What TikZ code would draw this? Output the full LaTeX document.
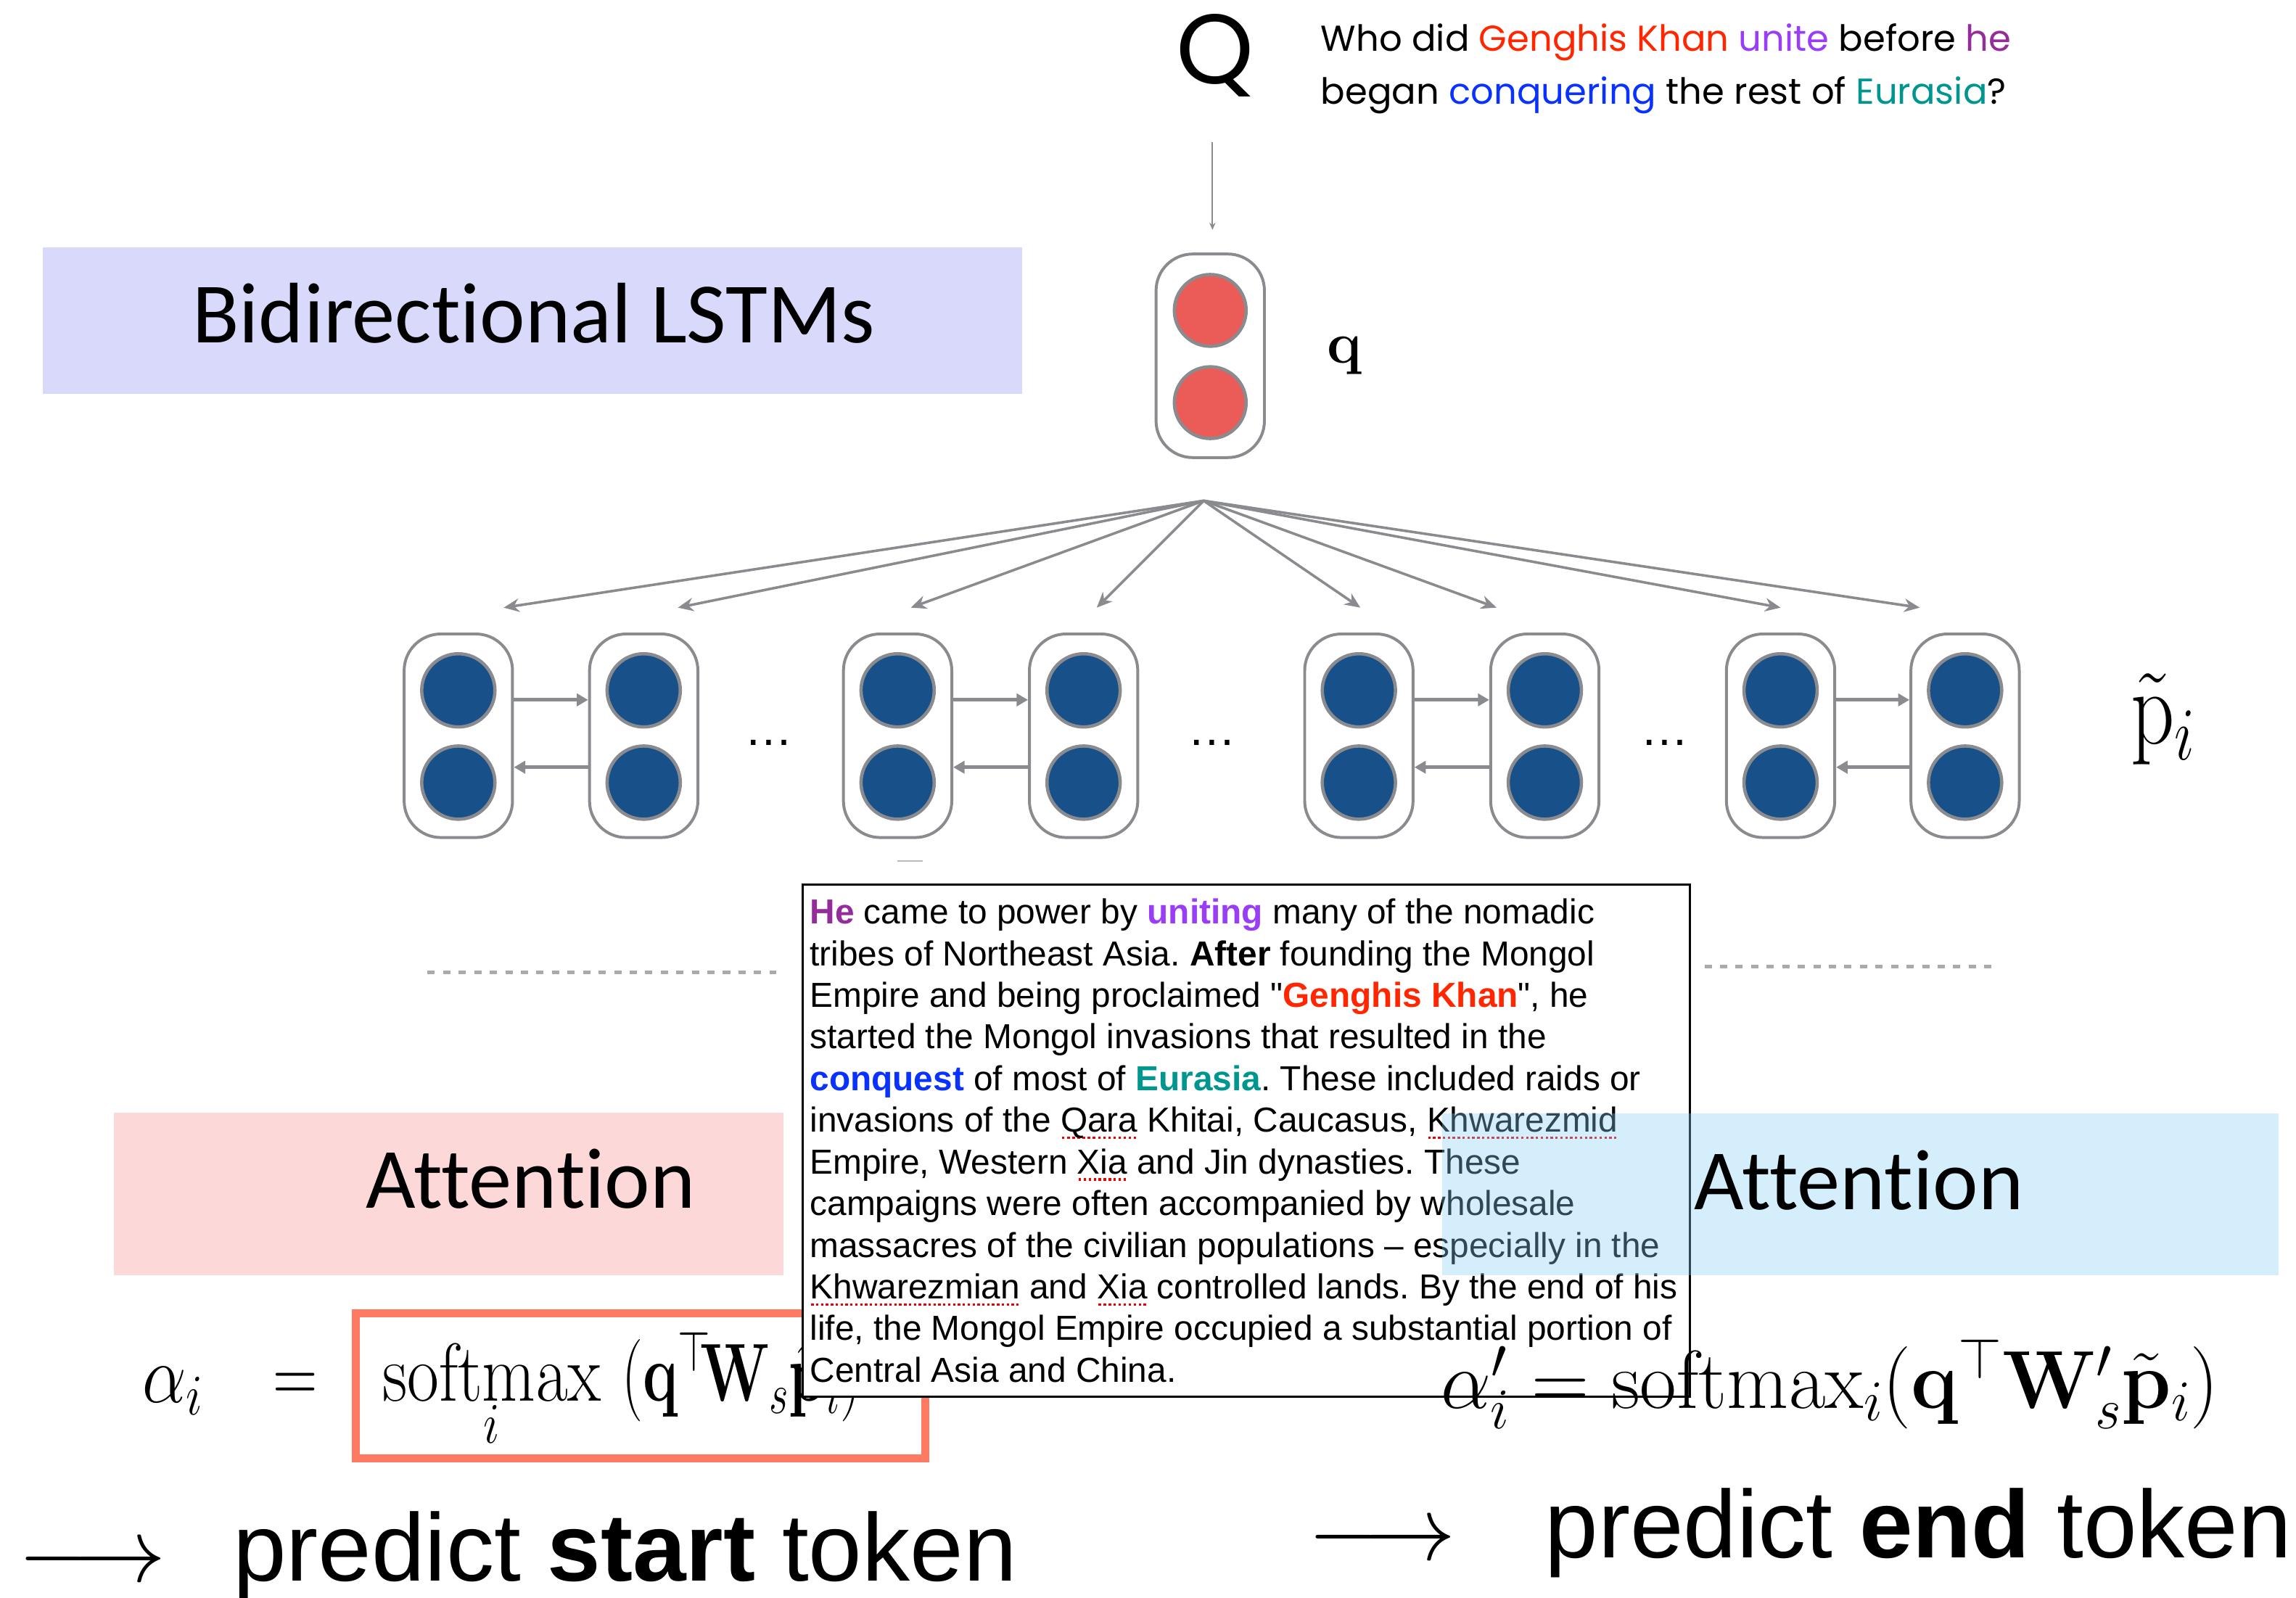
\RequirePackage{fix-cm}
\documentclass[tikz,border=0pt]{standalone}
\usepackage{amsmath}
\usepackage[no-math]{fontspec}
\usepackage{graphicx}
\setmainfont{Liberation Sans}[Ligatures=TeXOff]
\newfontfamily\calibrifont{Carlito}[Ligatures={NoCommon}]
\newfontfamily\gothicfont{Poppins}
\usetikzlibrary{arrows.meta}
\definecolor{lgray}{RGB}{137,139,143}
\definecolor{qred}{RGB}{235,92,88}
\definecolor{pblue}{RGB}{24,80,137}
\definecolor{lav}{RGB}{217,217,252}
\definecolor{pinkbg}{RGB}{253,216,216}
\definecolor{cyanbg}{RGB}{135,209,244}
\definecolor{orng}{RGB}{255,122,98}
\definecolor{cred}{RGB}{255,38,0}
\definecolor{cviolet}{RGB}{154,61,247}
\definecolor{cpurple}{RGB}{149,44,155}
\definecolor{cblue}{RGB}{10,50,255}
\definecolor{cteal}{RGB}{0,150,144}
\definecolor{dashgray}{RGB}{170,170,170}
\definecolor{sqred}{RGB}{235,0,0}
\newlength\sqw
\newcommand\sqln[1]{\settowidth{\sqw}{#1}\rlap{\raisebox{-0.2em}{\color{sqred}\xleaders\hbox to 0.14em{\hss\rule{0.07em}{0.07em}\hss}\hskip\sqw}}#1}
\frenchspacing
\begin{document}
\begin{tikzpicture}[x=0.5mm,y=-0.5mm,
  capsule/.style={draw=lgray, line width=2.8pt, rounded corners=12.5mm, fill=white,
    minimum width=37mm, minimum height=69.5mm, inner sep=0pt},
  rcirc/.style={circle, draw=lgray, line width=3.2pt, fill=qred, minimum size=24.5mm, inner sep=0pt},
  bcirc/.style={circle, draw=lgray, line width=3.2pt, fill=pblue, minimum size=25mm, inner sep=0pt},
  fanarr/.style={draw=lgray, line width=2.5pt, -{Stealth[length=15pt,width=13pt]}},
  cellarr/.style={draw=lgray, line width=3.4pt, -{Triangle[length=11pt,width=12pt]}},
  qarr/.style={draw=lgray, line width=1.4pt, -{Stealth[length=7pt,width=6pt]}},
  dashln/.style={draw=dashgray, line width=3.5pt, dash pattern=on 7.1pt off 8pt},
  ptxt/.style={anchor=base west, inner sep=0pt, font=\fontsize{33.7}{40}\selectfont},
  qtxt/.style={anchor=base west, inner sep=0pt, font=\gothicfont\fontsize{35}{35}\selectfont},
  cal/.style={inner sep=0pt, font=\calibrifont\fontsize{83.5}{84}\selectfont},
  dotsty/.style={anchor=base, inner sep=0pt, font=\fontsize{47}{47}\selectfont},
  bigtxt/.style={anchor=base west, inner sep=0pt, font=\fontsize{93.2}{93}\selectfont},
  mathbig/.style={inner sep=0pt, font=\fontsize{80}{80}\selectfont},
  longarr/.style={inner sep=0pt, font=\fontsize{89}{89}\selectfont}
]
\path[fill=white] (0,0) rectangle (1568,1091);
\useasboundingbox (0,0) rectangle (1568,1091);

% Bidirectional LSTMs
\fill[lav] (29,169) rectangle (698,269);
\node[cal, anchor=base] (bidi) at (364.5,234) {Bidirectional LSTMs};

% Question
\node[anchor=base west, inner sep=0pt, font=\gothicfont\fontsize{96}{96}\selectfont] (Qlet) at (803,57) {Q};
\node[qtxt] (ql1) at (902,35) {Who did \textcolor{cred}{Genghis Khan} \textcolor{cviolet}{unite} before \textcolor{cpurple}{he}};
\node[qtxt] (ql2) at (902,71) {began \textcolor{cblue}{conquering} the rest of \textcolor{cteal}{Eurasia}?};

% q encoder
\coordinate (qa) at (828,97);
\coordinate (qb) at (828,157);
\draw[qarr] (qa) -- (qb);
\node[capsule] (qcap) at (826.5,243) {};
\node[rcirc] (qc1) at (826.5,212) {};
\node[rcirc] (qc2) at (826.5,275) {};
\node[anchor=base west, inner sep=0pt, font=\fontsize{57}{57}\selectfont] (qlab) at (906,248) {$\mathbf{q}$};

% fan arrows
\coordinate (apex) at (822,342);
\foreach \x [count=\k] in {344,463,622,749,929,1022,1216,1311} {
  \coordinate (t\k) at (\x,415);
  \draw[fanarr] (apex) -- (t\k);
}

% LSTM cells
\coordinate (rt) at (0,478);
\coordinate (rb) at (0,524);
\foreach \x [count=\k] in {313,439.6,613,740,928,1055,1216,1342} {
  \node[capsule] (c\k) at (\x,502.5) {};
  \node[bcirc] (c\k t) at (\x,471.5) {};
  \node[bcirc] (c\k b) at (\x,534.5) {};
}
\foreach \a/\b in {1/2,3/4,5/6,7/8} {
  \draw[cellarr] (c\a.east |- rt) -- (c\b.west |- rt);
  \draw[cellarr] (c\b.west |- rb) -- (c\a.east |- rb);
}
\node[dotsty] (d1) at (525,509) {…};
\node[dotsty] (d2) at (828,509) {…};
\node[dotsty] (d3) at (1137,509) {…};
\node[anchor=base west, inner sep=0pt, font=\fontsize{104}{104}\selectfont] (plab) at (1455,508) {\scalebox{0.8}[1]{$\tilde{\mathrm{p}}_i$}};
\draw[lgray!60, line width=1.2pt] (613,588) -- (630,588);

% dashed separators
\coordinate (dl1) at (292,664);
\coordinate (dl2) at (530,664);
\coordinate (dr1) at (1164,660);
\coordinate (dr2) at (1364,660);
\draw[dashln] (dl1) -- (dl2);
\draw[dashln] (dr1) -- (dr2);

% left attention
\fill[pinkbg] (78,760) rectangle (535,871);
\node[cal, anchor=base] (att1) at (362.5,825) {Attention};

% left formula
\node[mathbig, anchor=base west] (fa) at (97,958) {\scalebox{0.85}[1]{$\alpha_i$}};
\node[mathbig, anchor=base] (feq) at (201.5,958) {\scalebox{0.75}[1]{$\mathbf{=}$}};
\node[mathbig, anchor=base west] (fsm) at (261,957) {\scalebox{0.84}[1]{$\underset{i}{\mathrm{softmax}}$}\hspace{0.25em}\scalebox{0.72}[1]{$(\mathbf{q}^{\top}\!\mathbf{W}_s\tilde{\mathbf{p}}_i)$}};
\draw[orng, line width=7.8pt] (243,897) rectangle (632,996);

% passage
\node[draw=black, line width=2.1pt, fill=white, minimum width=303mm, minimum height=175mm, inner sep=0pt] (pbox) at (851,779) {};
\node[ptxt] (p1) at (553,631) {\textbf{\textcolor{cpurple}{He}} came to power by \textbf{\textcolor{cviolet}{uniting}} many of the nomadic};
\node[ptxt] (p2) at (553,659.45) {tribes of Northeast Asia. \textbf{After} founding the Mongol};
\node[ptxt] (p3) at (553,687.9) {Empire and being proclaimed "\textbf{\textcolor{cred}{Genghis Khan}}", he};
\node[ptxt] (p4) at (553,716.35) {started the Mongol invasions that resulted in the};
\node[ptxt] (p5) at (553,744.8) {\textbf{\textcolor{cblue}{conquest}} of most of \textbf{\textcolor{cteal}{Eurasia}}. These included raids or};
\node[ptxt] (p6) at (553,773.25) {invasions of the \sqln{Qara} Khitai, Caucasus, \sqln{Khwarezmid}};
\node[ptxt] (p7) at (553,801.7) {Empire, Western \sqln{Xia} and Jin dynasties. These};
\node[ptxt] (p8) at (553,830.15) {campaigns were often accompanied by wholesale};
\node[ptxt] (p9) at (553,858.6) {massacres of the civilian populations – especially in the};
\node[ptxt] (p10) at (553,887.05) {\sqln{Khwarezmian} and \sqln{Xia} controlled lands. By the end of his};
\node[ptxt] (p11) at (553,915.5) {life, the Mongol Empire occupied a substantial portion of};
\node[ptxt] (p12) at (553,943.95) {Central Asia and China.};

% right attention
\fill[cyanbg, fill opacity=0.35] (985,760.5) rectangle (1556,871);
\node[cal, anchor=base west] (att2) at (1157,826) {Attention};

% right formula
\node[mathbig, anchor=base west] (fr) at (984,962) {\resizebox{265.5mm}{\height}{$\alpha'_i = \mathrm{softmax}_i(\mathbf{q}^{\top}\mathbf{W}'_s\tilde{\mathbf{p}}_i)$}};

% predictions
\node[longarr] (ar1) at (63,1069) {$\longrightarrow$};
\node[bigtxt] (ps) at (159,1080) {predict \textbf{start} token};
\node[longarr] (ar2) at (944,1054) {$\longrightarrow$};
\node[bigtxt] (pe) at (1055,1064) {predict \textbf{end} token};
\end{tikzpicture}
\end{document}
